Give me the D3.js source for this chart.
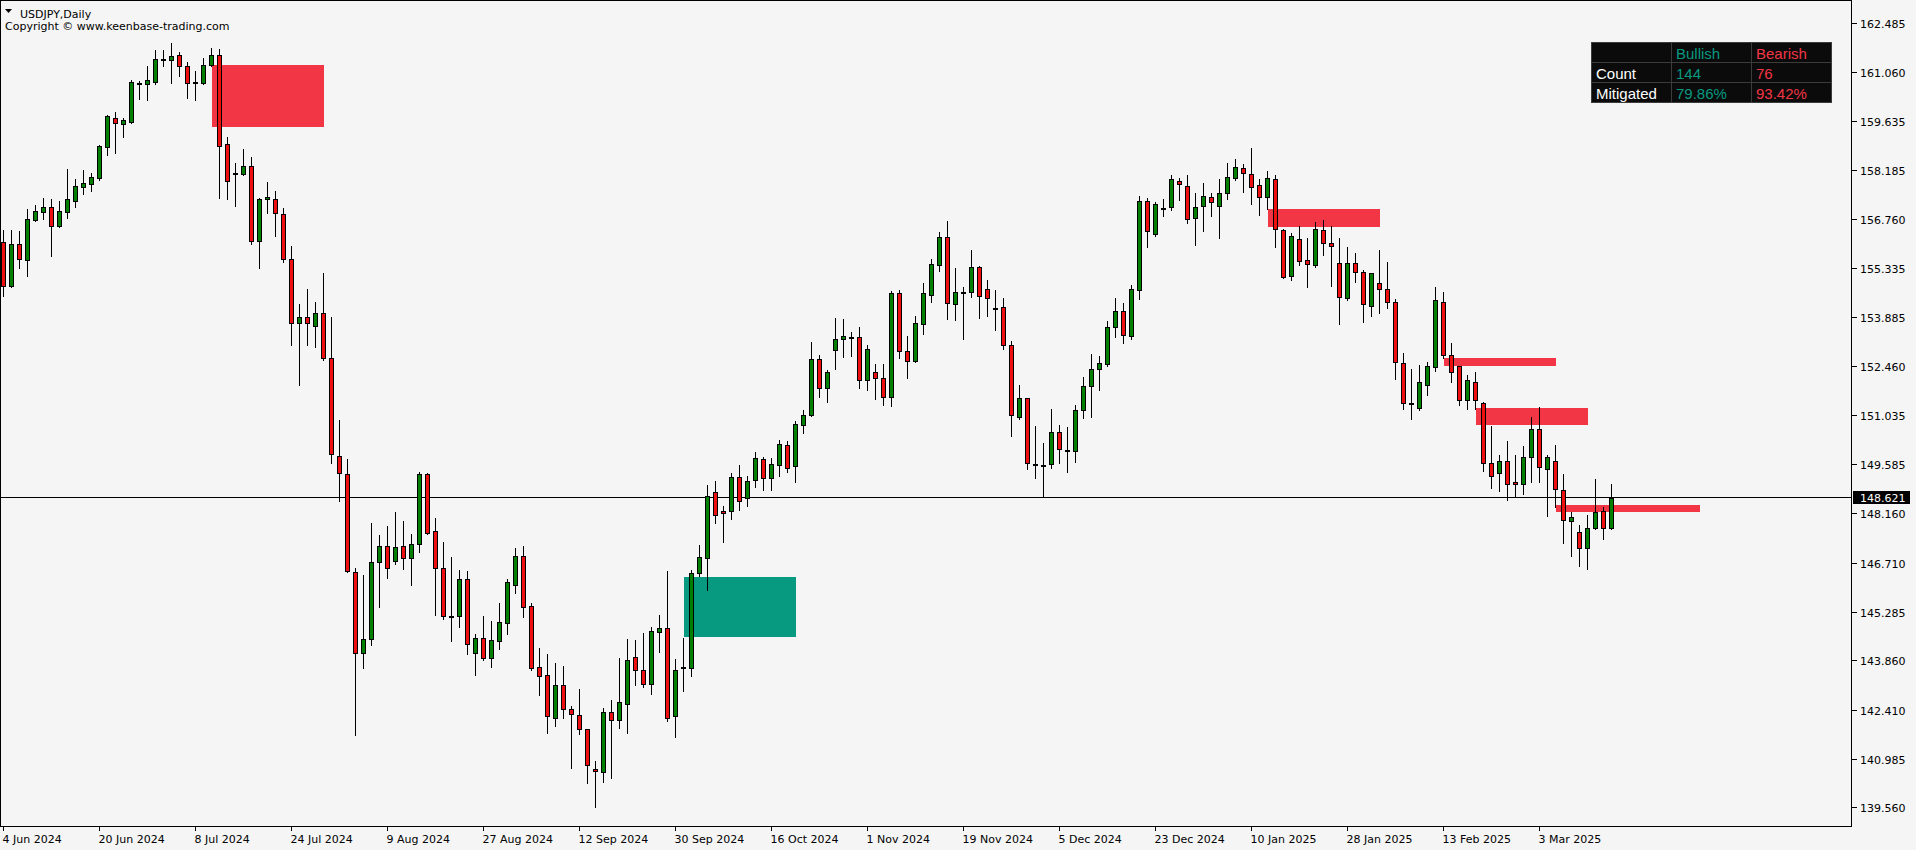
<!DOCTYPE html>
<html><head><meta charset="utf-8">
<script src="https://cdn.jsdelivr.net/npm/d3@7"></script>
<style>
html,body{margin:0;padding:0;background:#f5f5f5;overflow:hidden}
svg{display:block}
.ax{font-family:'DejaVu Sans',sans-serif;font-size:11px;fill:#000}
</style></head><body>
<svg id="c" width="1916" height="850"></svg>
<script>
// ---- DATA (USDJPY daily, bar 0 = 4 Jun 2024) ----
const opens = [156.08,154.79,156.02,155.57,156.74,156.98,157.10,156.57,156.98,157.30,157.71,157.80,157.97,158.88,159.71,159.55,159.60,160.74,160.72,160.78,161.43,161.40,161.55,161.23,160.76,160.75,161.27,161.55,158.95,158.12,
158.07,158.30,156.13,157.34,157.36,156.90,155.58,153.71,153.91,153.64,154.00,152.69,149.84,149.30,146.45,144.08,144.49,146.72,147.20,146.77,147.20,146.84,147.25,149.30,147.63,146.57,145.12,145.14,146.24,144.06,
144.50,143.94,144.43,144.96,146.07,146.90,145.44,143.65,143.42,142.16,143.13,142.43,142.25,141.84,140.67,140.60,142.34,142.10,142.59,143.95,143.57,143.16,144.68,144.79,142.24,143.62,143.64,146.42,146.84,148.77,
148.22,148.22,149.21,148.60,149.12,149.74,149.18,149.56,150.15,149.53,150.73,151.02,152.66,151.81,152.92,153.25,153.32,153.30,152.05,152.28,152.10,151.57,154.59,152.89,152.60,153.68,154.53,155.41,156.23,154.27,
154.61,154.62,155.35,154.71,154.16,154.18,153.07,150.98,151.52,149.59,149.56,149.59,150.53,150.00,149.97,151.17,151.87,152.37,152.51,153.60,154.06,153.33,154.68,157.30,156.31,157.07,157.12,157.86,157.72,156.78,
157.13,157.40,157.13,157.51,157.95,158.25,158.07,157.75,157.40,157.92,156.43,155.09,156.17,155.55,155.41,156.43,156.05,155.47,154.44,155.47,155.20,154.21,154.88,154.71,154.33,152.54,151.36,151.25,151.90,152.43,
154.33,152.78,152.46,151.46,151.99,151.37,149.62,149.33,149.68,149.06,149.00,149.79,150.61,149.44,149.68,148.83,147.92,147.60,147.13,147.72,148.22,147.72];
const highs = [156.47,156.47,156.44,157.09,157.20,157.41,157.37,157.31,158.25,157.95,158.23,158.14,158.95,159.83,159.92,159.74,160.86,160.83,161.27,161.73,161.73,161.94,161.68,161.38,161.12,161.50,161.79,161.76,159.18,158.44,
158.83,158.61,157.42,157.88,157.62,157.11,156.00,154.32,154.74,154.37,155.22,153.92,150.90,149.78,146.60,146.39,147.91,147.55,147.82,148.23,147.96,147.58,149.39,149.35,148.06,147.35,146.90,146.53,146.50,144.65,
145.18,145.04,145.56,146.27,147.17,147.23,145.57,144.26,144.07,143.81,143.72,142.54,143.05,141.87,140.93,142.49,142.73,143.96,144.51,144.48,144.69,144.86,145.21,146.50,143.93,144.54,146.53,147.26,149.01,149.12,
148.40,149.36,149.60,149.27,149.97,149.82,149.79,150.32,150.29,150.88,151.20,153.19,152.81,152.37,153.90,153.87,153.49,153.63,153.10,152.54,152.54,154.68,154.71,153.36,153.95,154.91,155.61,156.40,156.72,155.35,
154.80,155.89,155.41,155.00,154.71,154.48,153.21,151.93,151.55,150.73,150.23,151.24,150.76,150.71,151.34,152.16,152.85,152.78,153.80,154.47,154.33,154.85,157.45,157.42,157.30,157.38,158.08,157.99,158.08,157.55,
157.85,157.55,157.96,158.42,158.54,158.39,158.87,157.96,158.20,158.08,156.51,156.37,156.58,156.24,156.70,156.75,156.58,156.23,155.96,155.79,155.29,155.20,155.89,155.53,154.44,152.88,152.40,152.51,152.60,154.80,
154.65,153.17,152.48,152.22,152.31,151.43,150.73,149.89,150.30,149.89,150.15,151.00,151.30,149.89,150.18,149.34,148.21,147.84,148.13,149.18,148.36,149.03];
const lows = [154.52,154.76,155.33,155.11,156.69,156.76,155.68,156.54,156.80,157.12,157.50,157.59,157.91,158.63,158.70,159.17,159.58,160.26,160.24,160.71,161.25,160.75,160.93,160.31,160.25,160.72,161.24,157.39,157.36,157.13,
158.04,156.04,155.34,156.95,156.28,155.50,153.09,151.92,153.09,153.01,152.65,149.62,148.51,146.43,141.67,143.62,144.30,145.43,146.27,146.68,146.53,146.07,147.02,147.55,145.18,145.06,144.43,144.84,144.05,143.44,
143.88,143.67,144.20,144.64,145.82,145.11,143.58,142.85,141.74,141.95,142.18,140.72,141.70,140.28,139.58,140.31,140.43,141.89,141.74,143.15,143.09,142.88,144.11,142.07,141.63,142.97,143.40,146.31,145.92,147.86,
147.33,148.00,148.24,148.38,148.94,148.85,148.85,149.24,149.36,149.08,150.50,151.00,151.55,151.42,152.39,152.74,152.77,151.83,151.77,151.51,151.33,151.28,152.69,152.12,152.58,153.39,154.33,155.25,153.85,153.82,
153.26,154.49,153.88,153.94,153.53,152.97,150.43,150.90,149.46,149.20,148.65,149.49,149.64,149.35,149.67,150.93,150.98,151.77,152.45,153.32,153.15,153.24,154.41,155.94,156.28,156.85,157.04,157.32,156.66,156.01,
156.42,156.86,156.22,157.36,157.89,157.56,157.21,156.89,157.05,155.93,155.05,154.97,155.41,154.77,155.35,155.72,154.81,153.70,154.40,154.91,153.76,153.92,154.01,154.15,152.09,151.22,150.92,151.19,151.63,152.33,
152.69,152.01,151.33,151.22,151.22,149.38,148.91,148.82,148.56,148.62,148.73,149.08,149.08,148.09,148.35,147.30,146.92,146.63,146.54,147.70,147.42,147.70];
const closes = [154.81,156.02,155.60,156.75,156.99,157.10,156.57,156.99,157.34,157.72,157.81,157.98,158.89,159.77,159.58,159.65,160.76,160.73,160.82,161.43,161.44,161.52,161.23,160.73,160.73,161.26,161.55,158.91,157.86,158.08,
158.30,156.13,157.34,157.42,156.93,155.58,153.71,153.91,153.71,154.00,152.69,149.88,149.33,146.48,144.08,144.49,146.72,147.20,146.57,147.16,146.84,147.25,149.30,147.59,146.57,145.14,145.16,146.24,144.33,144.50,
143.94,144.44,144.97,146.14,146.90,145.43,143.64,143.41,142.24,143.13,142.43,142.28,141.84,140.79,140.61,142.34,142.12,142.63,143.86,143.57,143.18,144.71,144.79,142.16,143.57,143.66,146.40,146.87,148.65,148.12,
148.16,149.21,148.51,149.09,149.77,149.18,149.59,150.17,149.47,150.76,151.02,152.66,151.81,152.28,153.25,153.33,153.30,152.05,152.95,152.10,151.57,154.59,152.89,152.60,153.71,154.59,155.44,156.23,154.30,154.62,
154.62,155.35,154.50,154.44,154.14,153.07,151.04,151.52,149.64,149.57,149.54,150.53,150.03,150.02,151.17,151.87,152.37,152.54,153.60,154.06,153.36,154.71,157.30,156.40,157.20,157.08,157.92,157.78,156.75,157.10,
157.43,157.25,157.51,157.98,158.27,158.10,157.69,157.40,157.95,156.46,155.06,156.26,155.53,155.44,156.46,156.05,155.96,154.47,155.47,155.20,154.27,155.17,154.71,154.33,152.57,151.37,151.38,151.99,152.46,154.38,
152.78,152.28,151.46,152.05,151.46,149.62,149.24,149.68,149.00,149.00,149.79,150.61,149.50,149.79,148.86,147.95,148.04,147.13,147.72,148.19,147.72,148.61];

const dateLabels = ["4 Jun 2024","20 Jun 2024","8 Jul 2024","24 Jul 2024","9 Aug 2024","27 Aug 2024","12 Sep 2024","30 Sep 2024","16 Oct 2024","1 Nov 2024","19 Nov 2024","5 Dec 2024","23 Dec 2024","10 Jan 2025","28 Jan 2025","13 Feb 2025","3 Mar 2025"];
const dateLabelBars = [0,12,24,36,48,60,72,84,96,108,120,132,144,156,168,180,192];
const priceTicks = ["162.485","161.060","159.635","158.185","156.760","155.335","153.885","152.460","151.035","149.585","148.160","146.710","145.285","143.860","142.410","140.985","139.560"];
const lastPrice = 148.621;

// zones (order blocks / imbalances)
const zoneStart  = [26, 85, 158, 180, 184, 194];
const zoneEnd    = [40, 99, 172, 194, 198, 212];
const zoneTop    = [161.266, 146.295, 157.055, 152.698, 151.236, 148.400];
const zoneBottom = [159.467, 144.541, 156.529, 152.464, 150.739, 148.195];
const zoneType   = ["bear","bull","bear","bear","bear","bear"];

const tableHeader = ["", "Bullish", "Bearish"];
const tableRows   = ["Count", "Mitigated"];
const bullStats   = ["144", "79.86%"];
const bearStats   = ["76", "93.42%"];

// ---- DRAW ----
const svg = d3.select("#c");
const plotR = 1852, plotB = 826;
const BULL = "#008000", BEAR = "#ee1010", ZBULL = "#089981", ZBEAR = "#f23645";

const x = d3.scaleLinear().domain([0, 1]).range([3.5, 11.5]);
const y = d3.scaleLinear().domain([139.560, 162.485]).range([807.3, 23.3]);

svg.append("rect").attr("width",1916).attr("height",850).attr("fill","#f5f5f5");

const plot = svg.append("g");
svg.append("clipPath").attr("id","pc").append("rect").attr("x",0).attr("y",0).attr("width",plotR).attr("height",plotB);
plot.attr("clip-path","url(#pc)");

// zones
plot.selectAll("rect.zone").data(zoneStart.map((s,k)=>k)).enter().append("rect")
  .attr("class","zone")
  .attr("x", k => Math.round(x(zoneStart[k])))
  .attr("width", k => Math.round(x(zoneEnd[k])) - Math.round(x(zoneStart[k])))
  .attr("y", k => Math.round(y(zoneTop[k])))
  .attr("height", k => Math.round(y(zoneBottom[k])) - Math.round(y(zoneTop[k])))
  .attr("fill", k => zoneType[k] === "bull" ? ZBULL : ZBEAR);

// last price line
const ly = Math.round(y(lastPrice)) + 0.5;
plot.append("line").attr("x1",0).attr("x2",plotR).attr("y1",ly).attr("y2",ly)
  .attr("stroke","#000").attr("stroke-width",1);

// candles
const idx = d3.range(opens.length);
const cg = plot.append("g").attr("shape-rendering","crispEdges");
const pxc = i => Math.round(x(i) - 0.5);
cg.selectAll("line.w").data(idx).enter().append("line")
  .attr("x1", i => pxc(i) + 0.5).attr("x2", i => pxc(i) + 0.5)
  .attr("y1", i => Math.round(y(highs[i])) + 0.5)
  .attr("y2", i => Math.round(y(lows[i])) + 0.5)
  .attr("stroke","#000").attr("stroke-width",1);
cg.selectAll("rect.b").data(idx).enter().append("rect")
  .attr("x", i => pxc(i) - 1.5)
  .attr("width", 4)
  .attr("y", i => Math.round(y(Math.max(opens[i], closes[i]))) + 0.5)
  .attr("height", i => Math.max(1, Math.round(y(Math.min(opens[i], closes[i]))) - Math.round(y(Math.max(opens[i], closes[i])))))
  .attr("fill", i => closes[i] >= opens[i] ? BULL : BEAR)
  .attr("stroke","#000").attr("stroke-width",1);

// frame
svg.append("rect").attr("x",0.5).attr("y",0.5).attr("width",plotR-1).attr("height",plotB)
  .attr("fill","none").attr("stroke","#000").attr("stroke-width",1).attr("shape-rendering","crispEdges");

// price axis
const pa = svg.append("g");
priceTicks.forEach(t => {
  const yy = Math.round(y(+t)) + 0.5;
  pa.append("line").attr("x1",plotR).attr("x2",plotR+5).attr("y1",yy).attr("y2",yy).attr("stroke","#000").attr("shape-rendering","crispEdges");
  pa.append("text").attr("class","ax").attr("x",plotR+8).attr("y",yy+4).text(t);
});
pa.append("rect").attr("x",plotR+1).attr("y",Math.round(y(lastPrice))-6).attr("width",57).attr("height",13).attr("fill","#000");
pa.append("text").attr("class","ax").attr("x",plotR+8).attr("y",Math.round(y(lastPrice))+4.5).style("fill","#fff").text(lastPrice.toFixed(3));

// time axis
const ta = svg.append("g");
dateLabels.forEach((d,k) => {
  const xx = pxc(dateLabelBars[k]) + 0.5;
  ta.append("line").attr("x1",xx).attr("x2",xx).attr("y1",plotB).attr("y2",plotB+5).attr("stroke","#000").attr("shape-rendering","crispEdges");
  ta.append("text").attr("class","ax").attr("x",xx-1).attr("y",843).text(d);
});

// header
svg.append("path").attr("d","M5,9 L12,9 L8.5,13 Z").attr("fill","#000");
svg.append("text").attr("class","ax").attr("x",20).attr("y",17.5).text("USDJPY,Daily");
svg.append("text").attr("class","ax").attr("x",5).attr("y",29.5).text("Copyright \u00A9 www.keenbase-trading.com");

// stats table
const tx0 = 1592, ty0 = 43, cw = 80, rh = 20;
const tb = svg.append("g");
tb.append("rect").attr("x",tx0-1).attr("y",ty0-1).attr("width",cw*3+1).attr("height",rh*3+1).attr("fill","#3c3c3c");
const cells = [tableHeader, [tableRows[0], bullStats[0], bearStats[0]], [tableRows[1], bullStats[1], bearStats[1]]];
const colCol = ["#ffffff", ZBULL, ZBEAR];
cells.forEach((row,r) => row.forEach((txt,c) => {
  tb.append("rect").attr("x",tx0+c*cw).attr("y",ty0+r*rh).attr("width",cw-1).attr("height",rh-1).attr("fill","#0b0b0b");
  tb.append("text").attr("x",tx0+c*cw+4).attr("y",ty0+r*rh+15.5)
    .attr("font-family","'Liberation Sans',Arial,sans-serif").attr("font-size","15px")
    .attr("fill", colCol[c]).text(txt);
}));
</script>
</body></html>
